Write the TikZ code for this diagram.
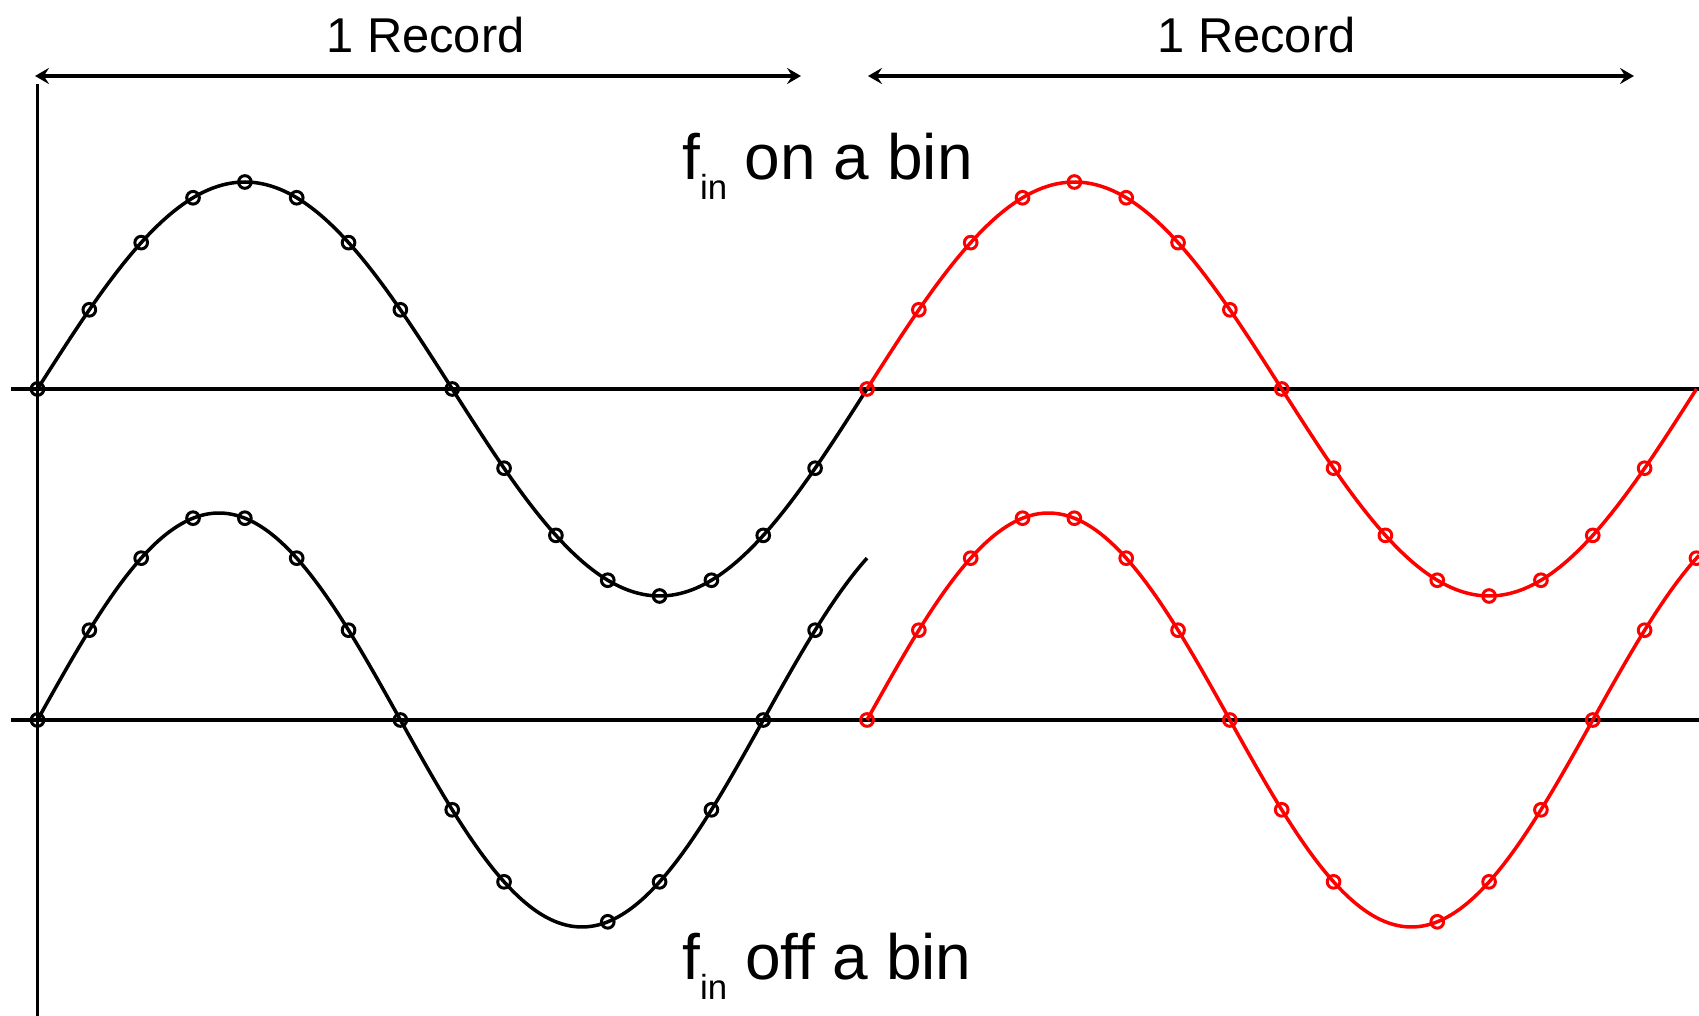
\documentclass[tikz,border=0pt]{standalone}
\usepackage{fontspec}
\setmainfont{Liberation Sans}
\usetikzlibrary{arrows.meta}
\newcommand{\finsub}{f\raisebox{-5.5pt}{\fontsize{9.9pt}{10pt}\selectfont in}}

\begin{document}
\begin{tikzpicture}[x=0.01cm, y=-0.01cm,
    axis/.style={line width=0.95pt},
    wave/.style={line width=1pt},
    samplemark/.style={line width=0.85pt},
    recarrow/.style={line width=1.15pt,
        {Stealth[length=4pt,width=4.6pt,inset=1.5pt]}-{Stealth[length=4pt,width=4.6pt,inset=1.5pt]}},
    rectext/.style={font=\fontsize{13.9pt}{16pt}\selectfont, anchor=base, inner sep=0pt},
    bintext/.style={font=\fontsize{18.2pt}{22pt}\selectfont, anchor=base, inner sep=0pt}]
    \useasboundingbox (0,0) rectangle (1699,1016);

    % 坐标轴
    \draw[axis] (37.5,84) -- (37.5,1016);
    \draw[axis] (11,389) -- (1699,389);
    \draw[axis] (11,720) -- (1699,720);

    % 记录长度
    \coordinate (rec1start) at (35,76);
    \coordinate (rec1end) at (801,76);
    \coordinate (rec2start) at (868,76);
    \coordinate (rec2end) at (1634,76);
    \draw[recarrow] (rec1start) -- (rec1end);
    \draw[recarrow] (rec2start) -- (rec2end);
    \node[rectext] (rec1label) at (425.5,53) {1 Record};
    \node[rectext] (rec2label) at (1256.5,53) {1 Record};

    % 第一个记录（黑色）
    \begin{scope}[shift={(37.5,0)}]
        \draw[wave] plot[domain=0:829.5, samples=200, smooth] (\x, {389-207*sin(\x/829.5*360)});
        \draw[wave] plot[domain=0:829.5, samples=200, smooth] (\x, {720-207*sin(\x/829.5*411.43)});
        \foreach \k in {0,...,15}
            \draw[samplemark] ({\k*51.84}, {389-207*sin(22.5*\k)}) circle (1.8pt);
        \foreach \k in {0,...,9,11,12,13,14,15}
            \draw[samplemark] ({\k*51.84}, {720-207*sin(25.714*\k)}) circle (1.8pt);
    \end{scope}

    % 第二个记录（红色，重复）
    \begin{scope}[shift={(867,0)}, red]
        \draw[wave] plot[domain=0:829.5, samples=200, smooth] (\x, {389-207*sin(\x/829.5*360)});
        \draw[wave] plot[domain=0:832, samples=200, smooth] (\x, {720-207*sin(\x/829.5*411.43)});
        \foreach \k in {0,...,15}
            \draw[samplemark] ({\k*51.84}, {389-207*sin(22.5*\k)}) circle (1.8pt);
        \foreach \k in {0,...,9,11,12,13,14,15,16}
            \draw[samplemark] ({\k*51.84}, {720-207*sin(25.714*\k)}) circle (1.8pt);
    \end{scope}

    % 标签
    \node[bintext] (onbin) at (827.5,180) {\finsub{} on a bin};
    \node[bintext] (offbin) at (827,980) {\finsub{} off a bin};
\end{tikzpicture}
\end{document}
